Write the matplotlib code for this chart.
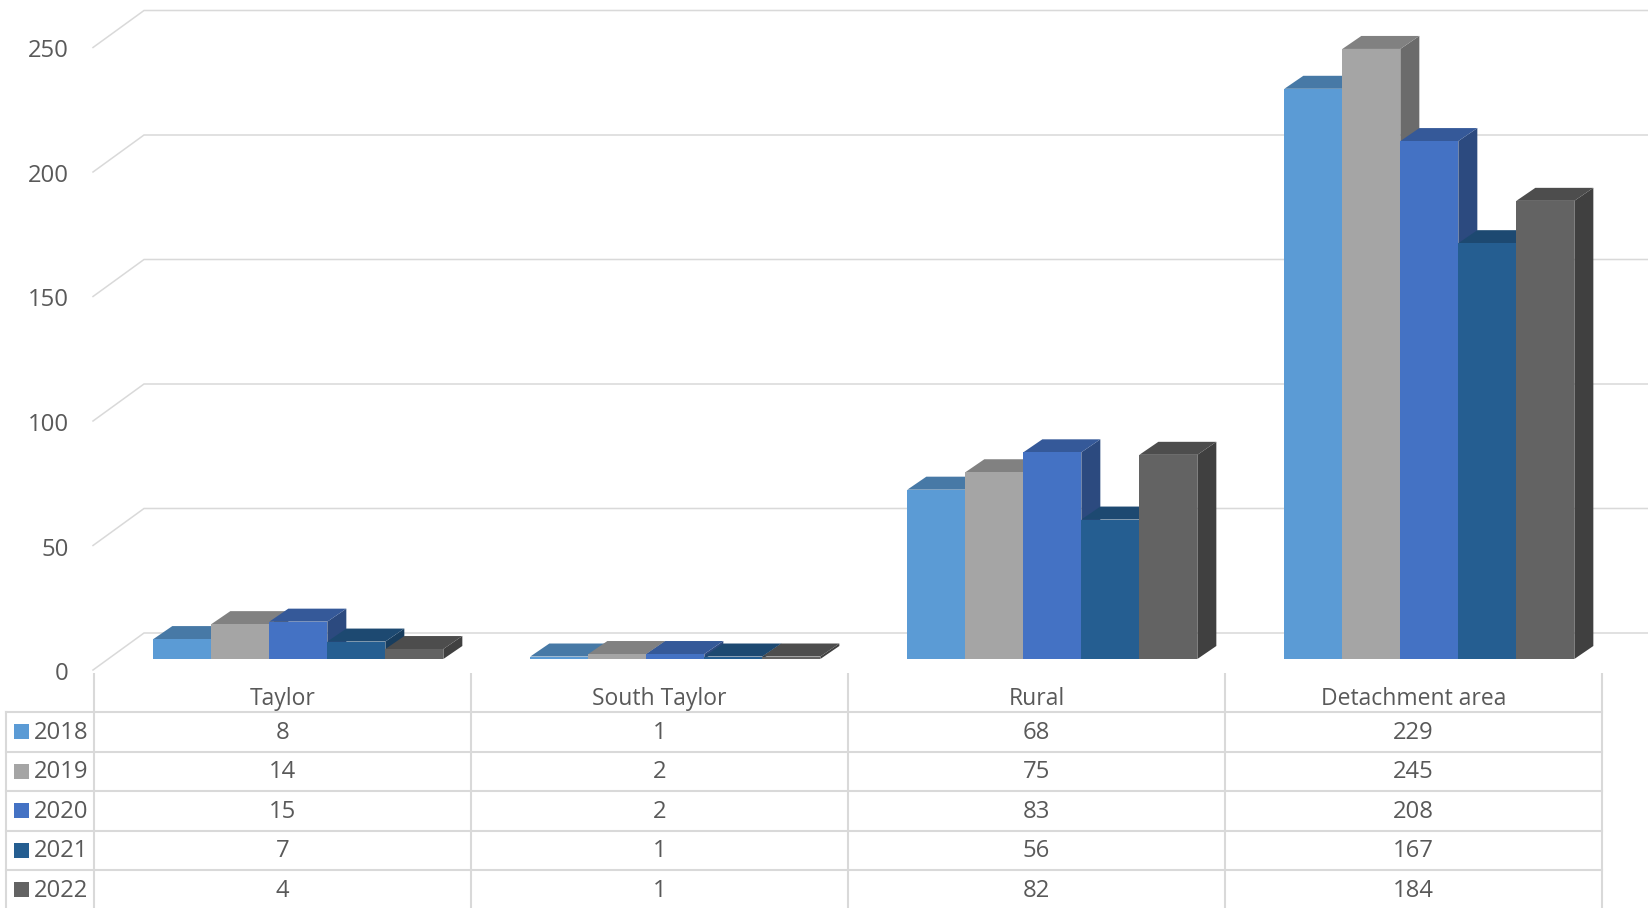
import numpy as np
import matplotlib.pyplot as plt
from matplotlib.patches import Polygon, Rectangle

plt.rcParams['font.family'] = ['Open Sans', 'DejaVu Sans']

areas = ['Taylor', 'South Taylor', 'Rural', 'Detachment area']
years = ['2018', '2019', '2020', '2021', '2022']
v2018 = [8, 1, 68, 229]
v2019 = [14, 2, 75, 245]
v2020 = [15, 2, 83, 208]
v2021 = [7, 1, 56, 167]
v2022 = [4, 1, 82, 184]
series = [v2018, v2019, v2020, v2021, v2022]
colors = ['#5b9bd5', '#a5a5a5', '#4472c4', '#255e91', '#636363']
yticks = [0, 50, 100, 150, 200, 250]

# pixel geometry of the fake 3d view
PXX = 377.0   # px per category column
PXY = 2.49    # px per value unit
TXT = '#595959'
GRID = '#d9d9d9'
FS = 16.5
FSN = 17.2

def shade(c, f):
    r, g, b = [int(c[k:k + 2], 16) / 255 for k in (1, 3, 5)]
    return (r * f, g * f, b * f)

fig = plt.figure(figsize=(16.48, 9.08), dpi=100)
ax = fig.add_axes([0, 0, 1, 1])
xlim = (-0.5 - 94 / PXX, -0.5 + (1648 - 94) / PXX)
ax.set_xlim(*xlim)
ax.set_ylim(-(908 - 659) / PXY, 659 / PXY)
ax.axis('off')

# walls / gridlines
front_dy = -11 / PXY
back_dy = 26 / PXY
xf = -0.5 - 1 / PXX
xb = -0.5 + 50 / PXX
for v in yticks:
    ax.plot([xf, xb, xlim[1]], [v + front_dy, v + back_dy, v + back_dy],
            color=GRID, lw=1.1, zorder=1, solid_joinstyle='miter')
    ax.text(-0.5 - 25 / PXX, v + front_dy - 4 / PXY, str(v), ha='right', va='center',
            fontsize=FSN, color=TXT)

# bars
bw = 58 / PXX
shift = 0.042
ddx = 19 / PXX
ddy = 13 / PXY
for i in range(len(areas)):
    for j, vals in enumerate(series):
        v = vals[i]
        left = i - 2.5 * bw + shift + j * bw
        right = left + bw
        z = 3 + 3 * j
        side = Polygon([(right, 0), (right, v), (right + ddx, v + ddy), (right + ddx, ddy)],
                       closed=True, facecolor=shade(colors[j], 0.65), edgecolor='none', zorder=z)
        top = Polygon([(left, v), (right, v), (right + ddx, v + ddy), (left + ddx, v + ddy)],
                      closed=True, facecolor=shade(colors[j], 0.78), edgecolor='none', zorder=z + 1)
        ax.add_patch(side)
        ax.add_patch(top)
        ax.bar(left, v, width=bw, align='edge', color=colors[j], zorder=z + 2, linewidth=0)

# data table
tax = fig.add_axes([0, 0, 1, (908 - 672.5) / 908])
tax.set_xlim(*xlim)
tax.set_ylim(4.962, -1)
tax.axis('off')
xleg = -0.5 - 88 / PXX
for k in range(len(years) + 1):
    tax.plot([xleg, 3.5], [k, k], color=GRID, lw=1.5)
for i in range(len(areas) + 1):
    tax.plot([i - 0.5, i - 0.5], [-1.05, 6], color=GRID, lw=1.5)
tax.plot([xleg, xleg], [0, 6], color=GRID, lw=1.5)

for i, name in enumerate(areas):
    tax.text(i, -0.33, name, ha='center', va='center', fontsize=FS, color=TXT)
for k, (yr, vals) in enumerate(zip(years, series)):
    tax.add_patch(Rectangle((-0.5 + (14 - 94) / PXX, k + 0.5 - 0.19), 15 / PXX, 0.38,
                            facecolor=colors[k], edgecolor='none'))
    tax.text(-0.5 + (34 - 94) / PXX, k + 0.53, yr, ha='left', va='center', fontsize=FSN, color=TXT)
    for i in range(len(areas)):
        tax.text(i, k + 0.53, str(vals[i]), ha='center', va='center', fontsize=FSN, color=TXT)

fig.savefig('out.png', dpi=100)
